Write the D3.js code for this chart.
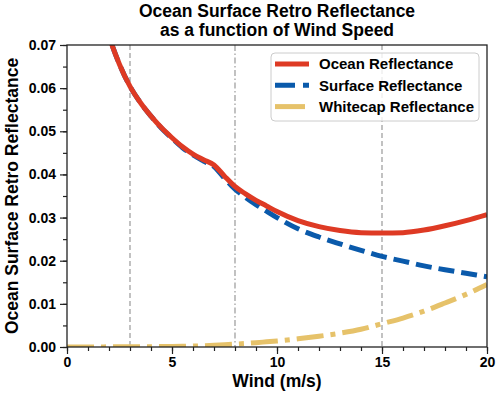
<!DOCTYPE html>
<html>
<head>
<meta charset="utf-8">
<script src="https://cdn.jsdelivr.net/npm/d3@7"></script>
<style>
  body { margin: 0; background: #fff; }
  svg { display: block; font-family: "Liberation Sans", Arial, sans-serif; font-weight: bold; }
</style>
</head>
<body>
<svg width="500" height="397"></svg>
<script>
// values
var wind = [0, 0.5, 1, 1.5, 2, 2.5, 3, 3.5, 4, 4.5, 5, 5.5, 6, 6.5, 7, 7.5, 8, 8.5, 9, 9.5, 10,
            11, 12, 13, 14, 15, 16, 17, 18, 19, 20];
var ocean = [null, null, null, 0.080, 0.0720, 0.0655, 0.0604, 0.0566, 0.0535, 0.0508, 0.0485, 0.0464,
             0.0447, 0.0434, 0.0422, 0.0396, 0.0372, 0.0355, 0.0340, 0.0327, 0.0314,
             0.0293, 0.0279, 0.0270, 0.0265, 0.0264, 0.0265, 0.0271, 0.0281, 0.0293, 0.0307];
var surface = [null, null, null, 0.080, 0.0720, 0.0655, 0.0604, 0.0566, 0.0535, 0.0507, 0.0484, 0.0462,
               0.0445, 0.0431, 0.0418, 0.0391, 0.0366, 0.0347, 0.0330, 0.0315, 0.0300,
               0.0274, 0.0255, 0.0239, 0.0224, 0.0210, 0.0199, 0.0188, 0.0179, 0.0171, 0.0163];
var whitecap = [0, 0, 0, 0, 0.00004, 0.00004, 0.00005, 0.00006, 0.00008, 0.0001, 0.00013, 0.00017,
                0.00022, 0.0003, 0.0004, 0.00052, 0.00066, 0.00082, 0.001, 0.0012, 0.0014,
                0.0019, 0.0025, 0.0032, 0.0041, 0.0054, 0.0067, 0.0083, 0.0102, 0.0122, 0.0145];
var markWinds = [3, 8, 15];
var xTicks = [0, 5, 10, 15, 20];
var yTicks = [0, 0.01, 0.02, 0.03, 0.04, 0.05, 0.06, 0.07];
var seriesNames = ["Ocean Reflectance", "Surface Reflectance", "Whitecap Reflectance"];

var svg = d3.select("svg"),
    margin = {top: 45, right: 13, bottom: 50, left: 67},
    width = +svg.attr("width") - margin.left - margin.right,
    height = +svg.attr("height") - margin.top - margin.bottom;

var x = d3.scaleLinear().domain([0, 20]).range([0, width]),
    y = d3.scaleLinear().domain([0, 0.07]).range([height, 0]);

var g = svg.append("g")
    .attr("transform", "translate(" + margin.left + "," + margin.top + ")");

g.append("clipPath").attr("id", "clip")
  .append("rect").attr("width", width).attr("height", height);

var plot = g.append("g").attr("clip-path", "url(#clip)");

// vertical marker lines
var markDash = ["5,3", "6,2.5,1.5,2.5", "5,3"];
plot.selectAll(".mark")
  .data(markWinds)
  .enter().append("line")
    .attr("x1", function(d) { return x(d); })
    .attr("x2", function(d) { return x(d); })
    .attr("y1", 0).attr("y2", height)
    .attr("stroke", "#999")
    .attr("stroke-width", 1.2)
    .attr("stroke-dasharray", function(d, i) { return markDash[i]; });

function lineFor(vals) {
  return d3.line()
    .defined(function(d, i) { return vals[i] != null; })
    .x(function(d, i) { return x(wind[i]); })
    .y(function(d, i) { return y(vals[i]); })
    .curve(d3.curveMonotoneX)(wind);
}

var colors = ["#de3a24", "#0a5aab", "#e6c26a"],
    dashes = [null, "16,7", "27,7,5,7"];

plot.append("path").attr("d", lineFor(surface))
    .attr("fill", "none").attr("stroke", colors[1]).attr("stroke-width", 5)
    .attr("stroke-dasharray", dashes[1]);
plot.append("path").attr("d", lineFor(whitecap))
    .attr("fill", "none").attr("stroke", colors[2]).attr("stroke-width", 5)
    .attr("stroke-dasharray", dashes[2]);
plot.append("path").attr("d", lineFor(ocean))
    .attr("fill", "none").attr("stroke", colors[0]).attr("stroke-width", 5);

// axes: major and minor ticks
g.append("g")
    .attr("transform", "translate(0," + height + ")")
    .call(d3.axisBottom(x).tickValues(d3.range(0, 21, 1)).tickSize(4).tickFormat(""));
g.append("g")
    .attr("class", "xmaj")
    .attr("transform", "translate(0," + height + ")")
    .call(d3.axisBottom(x).tickValues(xTicks).tickSize(7).tickPadding(3).tickFormat(d3.format("d")));
g.append("g")
    .call(d3.axisLeft(y).tickValues(d3.range(0, 0.0701, 0.005)).tickSize(4).tickFormat(""));
g.append("g")
    .attr("class", "ymaj")
    .call(d3.axisLeft(y).tickValues(yTicks).tickSize(7).tickPadding(4).tickFormat(d3.format(".2f")));

g.selectAll(".domain").remove();
g.selectAll(".tick line").attr("stroke", "#222").attr("stroke-width", 1.2);
g.selectAll(".tick text")
    .attr("font-family", "Liberation Sans, Arial, sans-serif")
    .attr("font-weight", "bold")
    .attr("font-size", 14)
    .attr("fill", "#000");

// frame
g.append("rect")
    .attr("width", width).attr("height", height)
    .attr("fill", "none").attr("stroke", "#222").attr("stroke-width", 1.3);

// legend
var lg = g.append("g").attr("transform", "translate(" + (271 - margin.left) + "," + (53 - margin.top) + ")");
lg.append("rect")
    .attr("width", 208).attr("height", 68).attr("rx", 4)
    .attr("fill", "#fff").attr("fill-opacity", 0.8)
    .attr("stroke", "#ccc").attr("stroke-width", 1);
seriesNames.forEach(function(name, i) {
  var yy = 11 + i * 21.3;
  lg.append("line")
      .attr("x1", 4).attr("x2", 38).attr("y1", yy).attr("y2", yy)
      .attr("stroke", colors[i]).attr("stroke-width", 5)
      .attr("stroke-dasharray", i == 1 ? "20,8" : (i == 2 ? "30,8" : null));
  lg.append("text")
      .attr("x", 48).attr("y", yy).attr("dy", "0.36em")
      .attr("font-size", 15)
      .text(name);
});

// titles
svg.append("text")
    .attr("x", margin.left + width / 2).attr("y", 17)
    .attr("text-anchor", "middle").attr("font-size", 17.5)
    .text("Ocean Surface Retro Reflectance");
svg.append("text")
    .attr("x", margin.left + width / 2).attr("y", 36)
    .attr("text-anchor", "middle").attr("font-size", 17.5)
    .text("as a function of Wind Speed");

svg.append("text")
    .attr("x", margin.left + width / 2).attr("y", 387)
    .attr("text-anchor", "middle").attr("font-size", 17.5)
    .text("Wind (m/s)");

svg.append("text")
    .attr("transform", "translate(18," + (margin.top + height / 2) + ") rotate(-90)")
    .attr("text-anchor", "middle").attr("font-size", 17.5)
    .text("Ocean Surface Retro Reflectance");
</script>
</body>
</html>
